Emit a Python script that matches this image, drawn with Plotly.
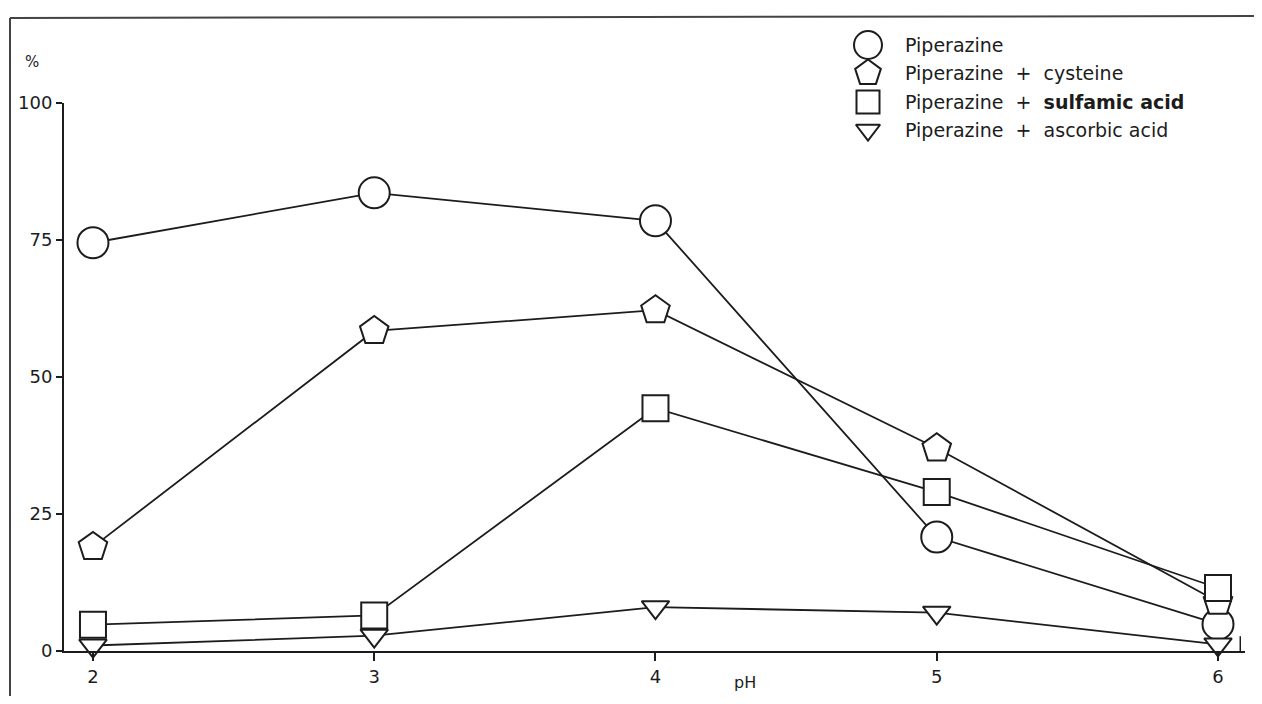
import plotly.graph_objects as go

# ---- data ----
ph = [2, 3, 4, 5, 6]
piperazine = [74.5, 83.6, 78.5, 20.8, 4.9]
cysteine = [19.0, 58.4, 62.2, 37.0, 9.0]
sulfamic = [4.8, 6.5, 44.3, 29.0, 11.5]
ascorbic = [1.0, 2.8, 8.0, 7.0, 1.2]

series_names = ["Piperazine", "Piperazine  +  cysteine",
                "Piperazine  +  <b>sulfamic acid</b>", "Piperazine  +  ascorbic acid"]
y_ticks = [0, 25, 50, 75, 100]
x_ticks = [2, 3, 4, 5, 6]

# ---- styles / layout (page pixel coordinates; body has an 8px margin) ----
INK = "#1c1c1c"
FONT = "DejaVu Sans"
symbols = ["circle", "pentagon", "square", "triangle-down"]
msizes = [31, 30, 26, 24]
PAGE_W, PAGE_H, OFF = 1262, 704, 8
W, H = PAGE_W - 2 * OFF, PAGE_H - 2 * OFF

def fx(px):
    return (px - OFF) / W

def fy(py):
    return (H - (py - OFF)) / H

fig = go.Figure()
all_series = [piperazine, cysteine, sulfamic, ascorbic]
for ys in all_series:
    fig.add_trace(go.Scatter(
        x=ph, y=ys, mode="lines", line=dict(color=INK, width=1.8),
        hoverinfo="skip", showlegend=False, cliponaxis=False))
for name, ys, sym, ms in zip(series_names, all_series, symbols, msizes):
    fig.add_trace(go.Scatter(
        x=ph, y=ys, mode="markers", name=name,
        marker=dict(symbol=sym, size=ms, color="white", line=dict(color=INK, width=2)),
        showlegend=False, cliponaxis=False))

# ---- manual legend on a pixel overlay axis ----
leg_x_sym, leg_x_txt = 868, 903
leg_rows = [45, 73, 102, 130]
for name, sym, ms, ry in zip(series_names, symbols, msizes, leg_rows):
    fig.add_trace(go.Scatter(
        x=[leg_x_sym], y=[ry], xaxis="x2", yaxis="y2", mode="markers",
        marker=dict(symbol=sym, size=ms - 3, color="white", line=dict(color=INK, width=2)),
        showlegend=False, hoverinfo="skip", cliponaxis=False))
    fig.add_annotation(x=leg_x_txt, y=ry, xref="x2", yref="y2", text=name,
                       showarrow=False, xanchor="left", yanchor="middle",
                       font=dict(family=FONT, size=19, color=INK))

fig.add_annotation(x=32, y=62, xref="x2", yref="y2", text="%", showarrow=False,
                   font=dict(family=FONT, size=15, color=INK))
fig.add_annotation(x=745, y=682, xref="x2", yref="y2", text="pH", showarrow=False,
                   font=dict(family=FONT, size=16, color=INK))

x_left, x_right = 1.897, 6.096
axis_common = dict(showgrid=False, zeroline=False, showline=True, linecolor=INK,
                   linewidth=2, ticks="outside", tickwidth=1.5, tickcolor=INK,
                   automargin=False)
fig.update_layout(
    width=W, height=H,
    margin=dict(l=0, r=0, t=0, b=0, pad=0, autoexpand=False),
    paper_bgcolor="white", plot_bgcolor="rgba(0,0,0,0)",
    showlegend=False,
    xaxis=dict(domain=[fx(64), fx(1245)], range=[x_left, x_right],
               tickvals=x_ticks, ticktext=[str(v) for v in x_ticks], ticklen=8,
               tickfont=dict(family=FONT, size=18, color=INK), anchor="y", **axis_common),
    yaxis=dict(domain=[fy(651), fy(103)], range=[0, 100],
               tickvals=y_ticks, ticktext=[str(v) for v in y_ticks], ticklen=6,
               tickfont=dict(family=FONT, size=18, color=INK), anchor="x", **axis_common),
    xaxis2=dict(domain=[0, 1], range=[OFF, OFF + W], visible=False, anchor="y2", fixedrange=True),
    yaxis2=dict(domain=[0, 1], range=[OFF + H, OFF], visible=False, anchor="x2", fixedrange=True),
    shapes=[
        # scanned frame
        dict(type="line", xref="x2", yref="y2", x0=10, x1=PAGE_W, y0=18, y1=16,
             line=dict(color="#444", width=2)),
        dict(type="line", xref="x2", yref="y2", x0=10, x1=10, y0=18, y1=PAGE_H,
             line=dict(color="#444", width=2)),
        # y-axis stub below zero
        dict(type="line", xref="x domain", yref="y", x0=0, x1=0, y0=-1.7, y1=0,
             line=dict(color=INK, width=2)),
        # end tick at right of x axis
        dict(type="line", xref="x domain", yref="y", x0=0.996, x1=0.996, y0=0, y1=2.7,
             line=dict(color=INK, width=1.5)),
    ],
)

fig.write_html("out.html")
